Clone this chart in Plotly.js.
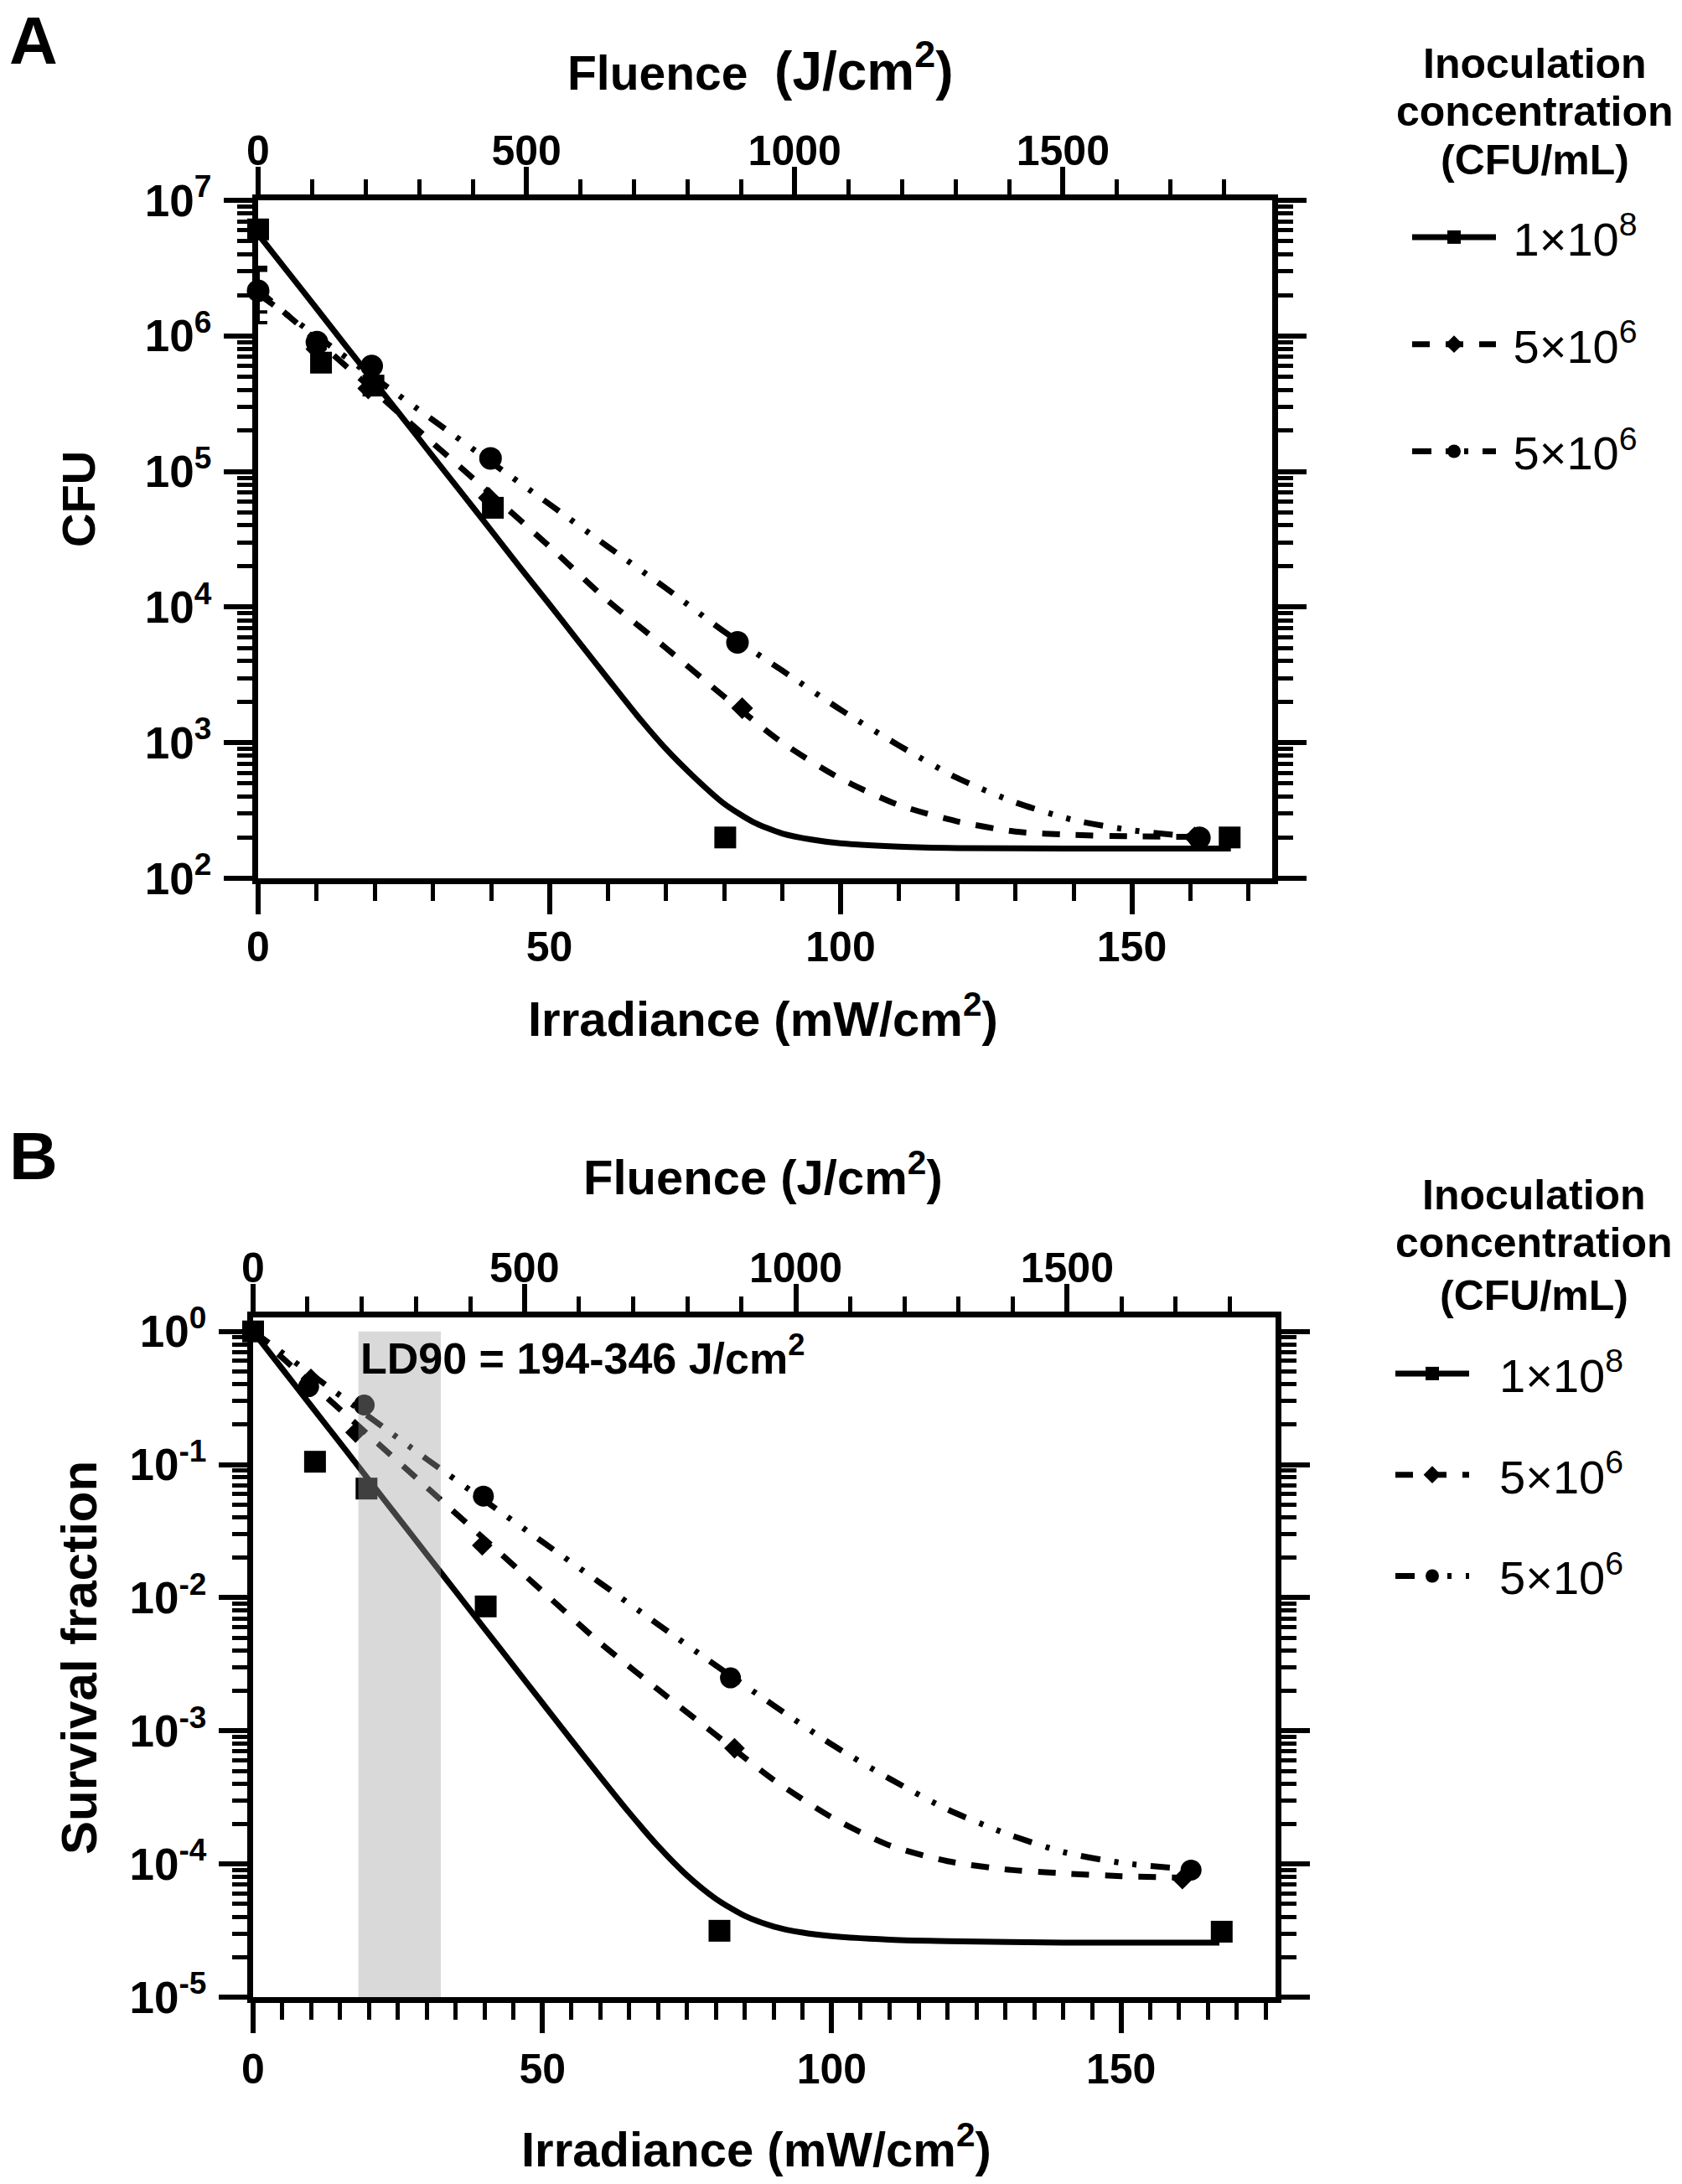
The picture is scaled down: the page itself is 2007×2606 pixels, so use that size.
<!DOCTYPE html>
<html>
<head>
<meta charset="utf-8">
<script src="https://cdn.plot.ly/plotly-3.0.1.min.js"></script>
<style>html,body{margin:0;padding:0;background:#fff;}#chart{width:2007px;height:2606px;}</style>
</head>
<body>
<div id="chart"></div>
<script>
// ---------- Panel A: CFU (measured points) ----------
const aSqX = [0, 10.8, 19.8, 40.3, 80.2, 166.8];
const aSqY = [6.1e6, 6.35e5, 4.3e5, 5.4e4, 200, 200];
const aDiX = [0, 10, 18.9, 39.6, 83.1, 160.8];
const aDiY = [2.2e6, 8.0e5, 4.1e5, 6.4e4, 1.8e3, 200];
const aDiErrPlus  = [1.0e6, 0, 0, 0, 0, 0];
const aDiErrMinus = [0.7e6, 0, 0, 0, 0, 0];
const aCiX = [0, 10.1, 19.5, 39.9, 82.3, 161.6];
const aCiY = [2.15e6, 9.0e5, 6.0e5, 1.25e5, 5.5e3, 199];
const aCiErrPlus  = [0.9e6, 0, 0, 0, 0, 0];
const aCiErrMinus = [0.9e6, 0, 0, 0, 0, 0];

// ---------- Panel A: fitted curves ----------
const aFitSolidX = [0,5,10,15,20,25,30,35,40,45,50,55,60,65,70,75,80,85,90,95,100,110,120,140,167];
const aFitSolidY = [5.62e6,3.0e6,1.6e6,8.5e5,4.55e5,2.43e5,1.29e5,6.9e4,3.68e4,1.95e4,1.05e4,5.58e3,2.98e3,1.60e3,902,550,355,260,214,193,181,171,167,166,166];
const aFitDashX = [0,10,20,30,40,50,60,70,80,90,100,110,120,130,140,150,161];
const aFitDashY = [2.19e6,9.3e5,3.9e5,1.62e5,6.8e4,2.8e4,1.12e4,5.0e3,2.19e3,1.0e3,543,347,263,221,209,204,202];
const aFitDotX = [0,10,20,30,40,50,60,70,80,90,100,110,120,130,140,150,162];
const aFitDotY = [2.04e6,1.0e6,4.9e5,2.4e5,1.17e5,5.75e4,2.8e4,1.38e4,6.6e3,3.4e3,1.75e3,955,550,363,269,226,200];

// ---------- Panel B: survival fraction (measured points) ----------
const bSqX = [0, 10.7, 19.6, 40.2, 80.6, 167.4];
const bSqY = [1, 0.105, 0.066, 0.0086, 3.15e-5, 3.1e-5];
const bDiX = [0, 10, 17.7, 39.6, 83.2, 160.6];
const bDiY = [1, 0.44, 0.174, 0.0247, 7.4e-4, 7.7e-5];
const bCiX = [0, 9.6, 19.2, 39.8, 82.5, 162.1];
const bCiY = [1, 0.385, 0.28, 0.058, 2.5e-3, 9.0e-5];

// ---------- Panel B: fitted curves ----------
const bFitSolidX = [0,5,10,15,20,25,30,35,40,45,50,55,60,65,70,75,80,85,90,95,100,110,120,140,167];
const bFitSolidY = [1,0.526,0.277,0.146,0.0766,0.0403,0.0212,0.01114,5.86e-3,3.08e-3,1.62e-3,8.53e-4,4.52e-4,2.43e-4,1.36e-4,8.2e-5,5.47e-5,4.07e-5,3.39e-5,3.05e-5,2.87e-5,2.70e-5,2.63e-5,2.57e-5,2.57e-5];
const bFitDashX = [0,10,20,30,40,50,60,70,80,90,100,110,120,130,140,150,160];
const bFitDashY = [1,0.407,0.166,0.0676,0.0275,0.0112,4.57e-3,2.04e-3,9.3e-4,4.27e-4,2.24e-4,1.38e-4,1.05e-4,9.1e-5,8.5e-5,8.1e-5,7.9e-5];
const bFitDotX = [0,10,20,30,40,50,60,70,80,90,100,110,120,130,140,150,162];
const bFitDotY = [1,0.479,0.229,0.110,0.0537,0.0263,0.0129,6.3e-3,3.09e-3,1.55e-3,7.9e-4,4.37e-4,2.57e-4,1.70e-4,1.23e-4,1.02e-4,9.1e-5];

// ---------- labels / ticks ----------
const seriesNames = ['1×10<sup>8</sup>', '5×10<sup>6</sup>', '5×10<sup>6</sup>'];
const irrTicks = [0, 50, 100, 150];
const fluTicks = [0, 500, 1000, 1500];
const cfuTickVals = [1e2, 1e3, 1e4, 1e5, 1e6, 1e7];
const cfuTickText = ['10<sup>2</sup>','10<sup>3</sup>','10<sup>4</sup>','10<sup>5</sup>','10<sup>6</sup>','10<sup>7</sup>'];
const sfTickVals = [1e-5, 1e-4, 1e-3, 1e-2, 1e-1, 1];
const sfTickText = ['10<sup>-5</sup>','10<sup>-4</sup>','10<sup>-3</sup>','10<sup>-2</sup>','10<sup>-1</sup>','10<sup>0</sup>'];
const ld90 = [194, 346];
const ld90Text = 'LD90 = 194-346 J/cm<sup>2</sup>';

// ---------- helpers ----------
const W = 2007, H = 2606;
const FONT = 'Liberation Sans, Arial, Helvetica, sans-serif';
const px = v => v / W;
const py = v => 1 - v / H;
function logMinors(lo, hi) {
  const out = [];
  for (let k = lo; k < hi; k++) for (let m = 2; m <= 9; m++) out.push(m * Math.pow(10, k));
  return out;
}
const dashStyle = '21px,19px';
const dotStyle = '23px,17px,5px,17px,5px,17px';
const LW = 7;
const AXW = 7;
const NB = '\u00a0';

function pts(x, y, sym, size, xa, ya, err) {
  const t = {x: x, y: y, xaxis: xa, yaxis: ya, mode: 'markers', type: 'scatter', cliponaxis: false,
    marker: {symbol: sym, size: size, color: 'black'}, showlegend: false, hoverinfo: 'x+y'};
  if (err) t.error_y = {type: 'data', symmetric: false, array: err[0], arrayminus: err[1], color: 'black', thickness: 4, width: 11};
  return t;
}
function fit(x, y, dash, xa, ya) {
  return {x: x, y: y, xaxis: xa, yaxis: ya, mode: 'lines', type: 'scatter',
    line: {color: 'black', width: LW, dash: dash, shape: 'spline', smoothing: 0.7}, showlegend: false, hoverinfo: 'skip'};
}
function legItem(name, sym, dash, xa, ya, leg, grp) {
  return {x: [null], y: [null], xaxis: xa, yaxis: ya, mode: 'lines+markers', type: 'scatter', name: name,
    line: {color: 'black', width: LW, dash: dash}, marker: {symbol: sym, size: 16, color: 'black'},
    legend: leg, legendgroup: grp, showlegend: true, hoverinfo: 'skip'};
}

const data = [
  fit(aFitSolidX, aFitSolidY, 'solid', 'x', 'y'),
  fit(aFitDashX, aFitDashY, dashStyle, 'x', 'y'),
  fit(aFitDotX, aFitDotY, dotStyle, 'x', 'y'),
  pts(aSqX, aSqY, 'square', 26, 'x', 'y'),
  pts(aDiX, aDiY, 'diamond', 20, 'x', 'y', [aDiErrPlus, aDiErrMinus]),
  pts(aCiX, aCiY, 'circle', 27, 'x', 'y', [aCiErrPlus, aCiErrMinus]),
  legItem(NB + seriesNames[0], 'square', 'solid', 'x2', 'y', 'legend', 'a1'),
  legItem(NB + seriesNames[1], 'diamond', dashStyle, 'x2', 'y2', 'legend', 'a2'),
  legItem(NB + seriesNames[2], 'circle', dotStyle, 'x', 'y2', 'legend', 'a3'),

  fit(bFitSolidX, bFitSolidY, 'solid', 'x3', 'y3'),
  fit(bFitDashX, bFitDashY, dashStyle, 'x3', 'y3'),
  fit(bFitDotX, bFitDotY, dotStyle, 'x3', 'y3'),
  pts(bSqX, bSqY, 'square', 26, 'x3', 'y3'),
  pts(bDiX, bDiY, 'diamond', 19, 'x3', 'y3'),
  pts(bCiX, bCiY, 'circle', 25, 'x3', 'y3'),
  legItem(NB + NB + seriesNames[0], 'square', 'solid', 'x4', 'y3', 'legend2', 'b1'),
  legItem(NB + NB + seriesNames[1], 'diamond', dashStyle, 'x4', 'y4', 'legend2', 'b2'),
  legItem(NB + NB + seriesNames[2], 'circle', dotStyle, 'x3', 'y4', 'legend2', 'b3')
];

const tickFont = {family: FONT, size: 50, color: 'black', weight: 700};
const yTickFont = {family: FONT, size: 53, color: 'black', weight: 700};

function xBottom(domain, anchor, range, minorDtick, standoff) {
  return {domain: domain, anchor: anchor, range: range, type: 'linear',
    tickmode: 'array', tickvals: irrTicks, ticktext: irrTicks.map(String),
    ticks: 'outside', ticklen: 36, tickwidth: 6, tickcolor: 'black', ticklabelstandoff: standoff,
    showline: true, linewidth: AXW, linecolor: 'black', showgrid: false, zeroline: false,
    tickfont: tickFont,
    minor: {dtick: minorDtick, tick0: 0, ticks: 'outside', ticklen: 20, tickwidth: 5, tickcolor: 'black', showgrid: false}};
}
function xTop(overlay, anchor, range) {
  return {overlaying: overlay, anchor: anchor, side: 'top', range: range, type: 'linear',
    tickmode: 'array', tickvals: fluTicks, ticktext: fluTicks.map(String),
    ticks: 'outside', ticklen: 33, tickwidth: 6, tickcolor: 'black', ticklabelstandoff: -18,
    showline: true, linewidth: AXW, linecolor: 'black', showgrid: false, zeroline: false,
    tickfont: tickFont,
    minor: {dtick: 100, tick0: 0, ticks: 'outside', ticklen: 18, tickwidth: 5, tickcolor: 'black', showgrid: false}};
}
function yLeft(domain, anchor, range, vals, text, minors) {
  return {domain: domain, anchor: anchor, type: 'log', range: range,
    tickmode: 'array', tickvals: vals, ticktext: text,
    ticks: 'outside', ticklen: 34, tickwidth: 6, tickcolor: 'black', ticklabelstandoff: 4,
    showline: true, linewidth: AXW, linecolor: 'black', showgrid: false, zeroline: false,
    tickfont: yTickFont,
    minor: {tickmode: 'array', tickvals: minors, ticks: 'outside', ticklen: 18, tickwidth: 5, tickcolor: 'black', showgrid: false}};
}
function yRight(overlay, anchor, range, vals, minors) {
  return {overlaying: overlay, anchor: anchor, side: 'right', type: 'log', range: range,
    tickmode: 'array', tickvals: vals, showticklabels: false,
    ticks: 'outside', ticklen: 34, tickwidth: 6, tickcolor: 'black',
    showline: true, linewidth: AXW, linecolor: 'black', showgrid: false, zeroline: false,
    minor: {tickmode: 'array', tickvals: minors, ticks: 'outside', ticklen: 18, tickwidth: 5, tickcolor: 'black', showgrid: false}};
}

const domAx = [px(308), px(1518)];
const domAy = [py(1048), py(239)];
const domBx = [px(302), px(1522)];
const domBy = [py(2383), py(1572)];
const minorsA = logMinors(2, 7);
const minorsB = logMinors(-5, 0);

function ann(text, x, y, size, opts) {
  return Object.assign({text: text, x: px(x), y: py(y), xref: 'paper', yref: 'paper', showarrow: false,
    xanchor: 'center', yanchor: 'middle', font: {family: FONT, size: size, color: 'black', weight: 700}}, opts || {});
}

const annotations = [
  ann('A', 40, 49, 80),
  ann('Fluence  <span style="font-size:64px">(J/cm<sup>2</sup>)</span>', 907, 80, 57),
  ann('CFU', 94, 596, 56, {textangle: -90}),
  ann('Irradiance (mW/cm<sup>2</sup>)', 910, 1212, 58),
  ann('Inoculation', 1831, 76, 50),
  ann('concentration', 1831, 133, 50),
  ann('(CFU/mL)', 1831, 191, 50),

  ann('B', 40, 1379, 80),
  ann('Fluence (J/cm<sup>2</sup>)', 910, 1400, 58),
  ann('Survival fraction', 94, 1978, 60, {textangle: -90}),
  ann('Irradiance (mW/cm<sup>2</sup>)', 902, 2560, 58),
  ann('Inoculation', 1830, 1426, 50),
  ann('concentration', 1830, 1483, 50),
  ann('(CFU/mL)', 1830, 1546, 50),
  ann(ld90Text, 428, 1617, 52, {xanchor: 'left'})
];

const layout = {
  width: W, height: H, autosize: false,
  margin: {l: 0, r: 0, t: 0, b: 0, pad: 0},
  paper_bgcolor: 'white', plot_bgcolor: 'rgba(0,0,0,0)',
  font: {family: FONT, color: 'black'},
  xaxis: xBottom(domAx, 'y', [0, 174.1], 10, -4),
  xaxis2: xTop('x', 'y', [0, 1890]),
  yaxis: yLeft(domAy, 'x', [2, 7], cfuTickVals, cfuTickText, minorsA),
  yaxis2: yRight('y', 'x', [2, 7], cfuTickVals, minorsA),
  xaxis3: xBottom(domBx, 'y3', [0, 176.7], 5, 0),
  xaxis4: xTop('x3', 'y3', [0, 1884]),
  yaxis3: yLeft(domBy, 'x3', [-5, 0.105], sfTickVals, sfTickText, minorsB),
  yaxis4: yRight('y3', 'x3', [-5, 0.105], sfTickVals, minorsB),
  legend: {x: px(1680), y: py(240), xanchor: 'left', yanchor: 'top', bgcolor: 'rgba(0,0,0,0)',
    font: {family: FONT, size: 56, color: 'black'}, tracegroupgap: 52, itemwidth: 100},
  legend2: {x: px(1660), y: py(1596), xanchor: 'left', yanchor: 'top', bgcolor: 'rgba(0,0,0,0)',
    font: {family: FONT, size: 56, color: 'black'}, tracegroupgap: 45, itemwidth: 88},
  shapes: [{type: 'rect', xref: 'x4', yref: 'y3', x0: ld90[0], x1: ld90[1],
    y0: sfTickVals[0], y1: sfTickVals[sfTickVals.length - 1],
    fillcolor: 'rgba(160,160,160,0.4)', line: {width: 0}, layer: 'above'}],
  annotations: annotations,
  showlegend: true
};

Plotly.newPlot('chart', data, layout, {staticPlot: true, displayModeBar: false});
</script>
</body>
</html>
